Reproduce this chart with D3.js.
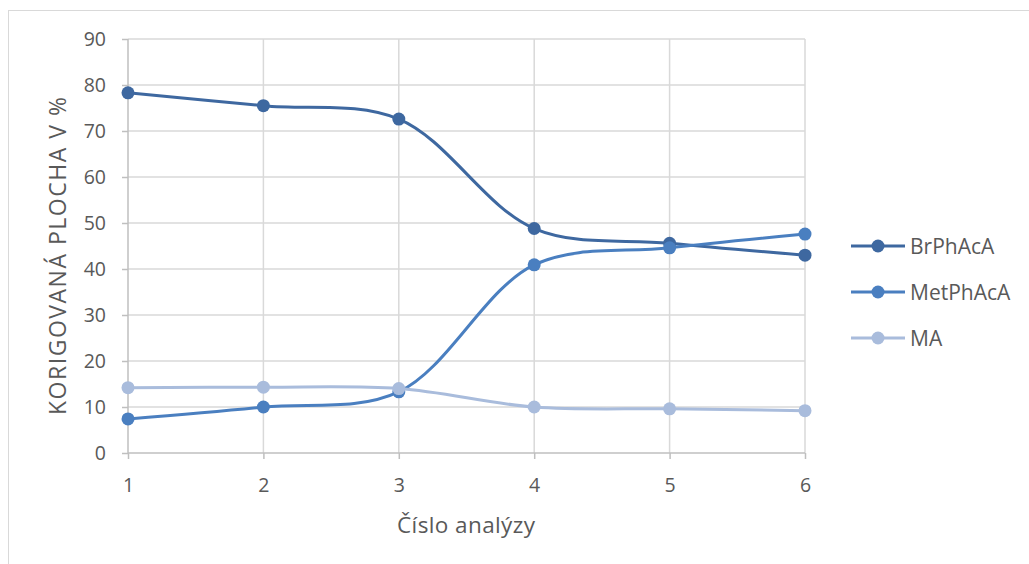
<!DOCTYPE html>
<html>
<head>
<meta charset="utf-8">
<script src="https://cdn.jsdelivr.net/npm/d3@7"></script>
<style>
body { margin: 0; background: #fff; }
text { font-family: "Open Sans", "Noto Sans", sans-serif; fill: #595959; }
</style>
</head>
<body>
<script>
// data
const analyzy = [1, 2, 3, 4, 5, 6];
const brPhAcA = [78.3, 75.5, 72.6, 48.8, 45.6, 43.0];
const metPhAcA = [7.4, 10.0, 13.3, 40.9, 44.6, 47.6];
const ma = [14.2, 14.3, 14.0, 10.0, 9.6, 9.2];
const yTicks = [0, 10, 20, 30, 40, 50, 60, 70, 80, 90];
const serieNames = ["BrPhAcA", "MetPhAcA", "MA"];
const barvy = ["#3e68a0", "#4a7fc0", "#a9bcdc"];

const series = [brPhAcA, metPhAcA, ma];

const svg = d3.select("body").append("svg")
  .attr("width", 1029)
  .attr("height", 564);

// ramecek grafu
svg.append("rect")
  .attr("x", 8.5).attr("y", 10.5)
  .attr("width", 1030).attr("height", 570)
  .attr("fill", "none").attr("stroke", "#d9d9d9");

const x = d3.scaleLinear().domain([1, 6]).range([128, 805]);
const y = d3.scaleLinear().domain([0, 90]).range([453, 39]);

// mrizka
svg.append("g").selectAll("line")
  .data(yTicks.slice(1))
  .enter().append("line")
  .attr("x1", 128).attr("x2", 805)
  .attr("y1", d => y(d)).attr("y2", d => y(d))
  .attr("stroke", "#d9d9d9").attr("stroke-width", 1.5);

svg.append("g").selectAll("line")
  .data(analyzy.slice(1))
  .enter().append("line")
  .attr("x1", d => x(d)).attr("x2", d => x(d))
  .attr("y1", y(0)).attr("y2", y(90))
  .attr("stroke", "#d9d9d9").attr("stroke-width", 1.5);

// osy
const osaY = d3.axisLeft(y).tickValues(yTicks).tickSize(6).tickPadding(16);
const gY = svg.append("g").attr("transform", "translate(128,0)").call(osaY);
gY.selectAll("path").attr("stroke", "#bfbfbf").attr("stroke-width", 1.5);
gY.selectAll("line").attr("stroke", "#bfbfbf").attr("stroke-width", 1.5);
gY.selectAll("text").style("font-size", "19.5px").attr("fill", "#595959");

const osaX = d3.axisBottom(x).tickValues(analyzy).tickFormat(d3.format("d")).tickSize(6).tickPadding(19);
const gX = svg.append("g").attr("transform", `translate(0,${y(0)})`).call(osaX);
gX.selectAll("path").attr("stroke", "#bfbfbf").attr("stroke-width", 1.5);
gX.selectAll("line").attr("stroke", "#bfbfbf").attr("stroke-width", 1.5);
gX.selectAll("text").style("font-size", "19.5px").attr("fill", "#595959");
gX.select(".domain").attr("d", `M128,0H805`);
gY.select(".domain").attr("d", `M0,${y(0)}V${y(90)}`);

// nazvy os
svg.append("text")
  .attr("transform", "translate(66,256) rotate(-90)")
  .attr("text-anchor", "middle")
  .attr("textLength", 318)
  .attr("lengthAdjust", "spacing")
  .style("font-size", "23px")
  .text("KORIGOVANÁ PLOCHA V %");

svg.append("text")
  .attr("x", 466).attr("y", 533)
  .attr("text-anchor", "middle")
  .attr("textLength", 138)
  .attr("lengthAdjust", "spacing")
  .style("font-size", "22.5px")
  .text("Číslo analýzy");

// krivky
const line = d3.line()
  .x((d, i) => x(analyzy[i]))
  .y(d => y(d))
  .curve(d3.curveCatmullRom.alpha(0.5));

series.forEach((s, k) => {
  svg.append("path")
    .datum(s)
    .attr("d", line)
    .attr("fill", "none")
    .attr("stroke", barvy[k])
    .attr("stroke-width", 3);
});

series.forEach((s, k) => {
  svg.append("g").selectAll("circle")
    .data(s)
    .enter().append("circle")
    .attr("cx", (d, i) => x(analyzy[i]))
    .attr("cy", d => y(d))
    .attr("r", 6.5)
    .attr("fill", barvy[k]);
});

// legenda
const legenda = svg.append("g").selectAll("g")
  .data(serieNames)
  .enter().append("g")
  .attr("transform", (d, i) => `translate(851,${246 + i * 46})`);

legenda.append("line")
  .attr("x1", 0).attr("x2", 54)
  .attr("stroke", (d, i) => barvy[i]).attr("stroke-width", 3);
legenda.append("circle")
  .attr("cx", 27).attr("r", 6.5)
  .attr("fill", (d, i) => barvy[i]);
legenda.append("text")
  .attr("x", 59).attr("dy", "0.36em")
  .style("font-size", "21px")
  .text(d => d);
</script>
</body>
</html>
